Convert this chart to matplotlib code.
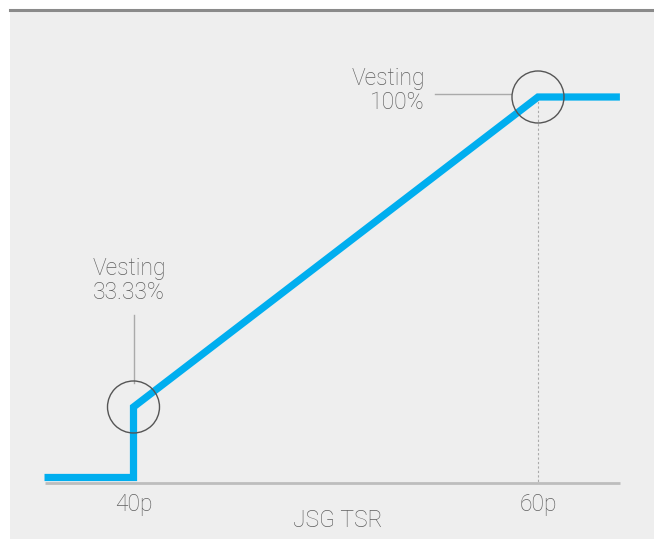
import numpy as np
import matplotlib
matplotlib.use("Agg")
import matplotlib.pyplot as plt
from matplotlib.patches import Rectangle
from matplotlib.lines import Line2D
from matplotlib.transforms import blended_transform_factory

# ---- data ----
tsr = [35.6, 40, 40, 60, 64.05]          # JSG TSR (pence)
vesting = [0, 0, 33.33, 100, 100]        # % vesting
tick_pos = [40, 60]
tick_labels = ["40p", "60p"]
ann_points_x = [40, 60]
ann_points_y = [33.33, 100]
ann_labels = ["Vesting\n33.33%", "Vesting\n100%"]
xlabel = "JSG TSR"

W, H = 654, 539
fig = plt.figure(figsize=(W / 100, H / 100), dpi=100)
fig.patch.set_facecolor("white")
fig.patches.append(Rectangle((10 / W, 0), (W - 10) / W, (H - 10) / H,
                             transform=fig.transFigure, facecolor="#eeeeee",
                             edgecolor="none", zorder=-10))
fig.lines.append(Line2D([10 / W, 1], [1 - 10 / H, 1 - 10 / H], transform=fig.transFigure,
                        color="#8a8a8a", lw=2.2, zorder=-9))

ax = fig.add_axes([0, 0, 1, 1])
ax.set_facecolor("none")
ax.axis("off")

# schematic (piecewise-linear) vertical scale
K = 15.16 / 33.33
def fwd(v):
    v = np.asarray(v, dtype=float)
    return np.where(v < 33.33, v * K, v - 33.33 + 15.16)
def inv(d):
    d = np.asarray(d, dtype=float)
    return np.where(d < 15.16, d / K, d + 33.33 - 15.16)
ax.set_yscale("function", functions=(fwd, inv))

ax.set_xlim(33.399, 65.736)
ax.set_ylim(float(inv(-13.23)), float(inv(102.69)))

font = dict(family=["Roboto", "DejaVu Sans"], fontweight="light", color="#5f5f5f")
FS = 16.5

bt = blended_transform_factory(ax.transData, ax.transAxes)

# x axis line
ax.plot([tsr[0], tsr[-1]], [1 - 483 / H] * 2, transform=bt, color="#bdbdbd",
        lw=2, solid_capstyle="butt", zorder=2)

# dashed guide from 100% point
ax.plot([60, 60], [100, float(inv(-1.18))], color="#aaaaaa", lw=0.8,
        dashes=(2, 2), zorder=2)

# vesting line
ax.plot(tsr, vesting, color="#00aeef", lw=5.2, solid_joinstyle="miter",
        solid_capstyle="butt", zorder=3)

# circles
ax.scatter(ann_points_x, ann_points_y, s=(52 * 0.72) ** 2, facecolors="none",
           edgecolors="#555555", linewidths=1.0, zorder=4)

# leader lines and labels
ax.plot([40.02, 40.02], [float(inv(15.16 + (407 - 315) / 4.65)), float(inv(15.16 + (407 - 383) / 4.65))],
        color="#aaaaaa", lw=1, zorder=2)
ax.plot([60 - (538 - 435) / 20.225, 60 - (538 - 511) / 20.225], [float(inv(81.83 + 3 / 4.65))] * 2,
        color="#aaaaaa", lw=1, zorder=2)

ax.text(40 - (133.5 - 93) / 20.225, 1 - 280.5 / H, ann_labels[0], transform=bt,
        ha="left", va="center", fontsize=FS, linespacing=1.1, **font)
ax.text(60 - (538 - 425) / 20.225, 1 - 90.5 / H, ann_labels[1], transform=bt,
        ha="right", va="center", fontsize=FS, linespacing=1.1, multialignment="right", **font)

for p, lab in zip(tick_pos, tick_labels):
    ax.text(p, 1 - 505 / H, lab, transform=bt, ha="center", va="center", fontsize=FS, **font)

ax.text(50.1, 1 - 520 / H, xlabel, transform=bt, ha="center", va="center", fontsize=FS, **font)

fig.savefig("out.png", dpi=100)
